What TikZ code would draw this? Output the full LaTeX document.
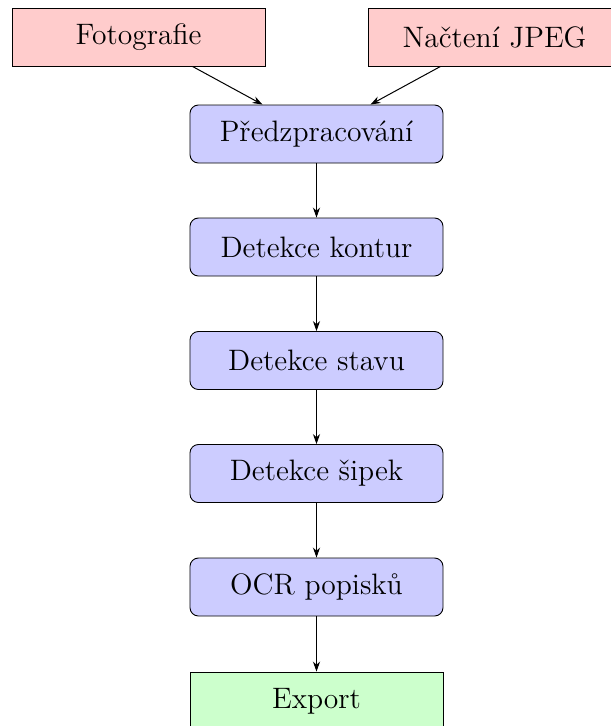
\documentclass[tikz,border=0pt]{standalone}
\usetikzlibrary{arrows.meta}
\begin{document}
\begin{tikzpicture}[x=0.45pt,y=-0.45pt,
  every node/.style={font=\fontsize{13.3}{16}\selectfont},
  inbox/.style={draw, fill=red!20, minimum width=113.85pt, minimum height=26.1pt, inner sep=0pt},
  stepbox/.style={draw, fill=blue!20, rounded corners=3.8pt, minimum width=113.85pt, minimum height=26.1pt, inner sep=0pt},
  outbox/.style={draw, fill=green!20, minimum width=113.85pt, minimum height=26.1pt, inner sep=0pt},
  conn/.style={-{Stealth[length=4.5pt,width=3.2pt]}, line width=0.45pt}]
\useasboundingbox (0,0) rectangle (611,726);
\node[inbox] (foto) at (138.5,37) {Fotografie};
\node[inbox] (jpeg) at (494.5,37) {Načtení JPEG};
\node[stepbox] (pre) at (316.5,134) {Předzpracování};
\node[stepbox] (kon) at (316.5,247) {Detekce kontur};
\node[stepbox] (sta) at (316.5,360.5) {Detekce stavu};
\node[stepbox] (sip) at (316.5,473.5) {Detekce šipek};
\node[stepbox] (ocr) at (316.5,587) {OCR popisků};
\node[outbox] (exp) at (316.5,701) {Export};
\draw[conn] (foto) -- (pre);
\draw[conn] (jpeg) -- (pre);
\draw[conn] (pre) -- (kon);
\draw[conn] (kon) -- (sta);
\draw[conn] (sta) -- (sip);
\draw[conn] (sip) -- (ocr);
\draw[conn] (ocr) -- (exp);
\end{tikzpicture}
\end{document}
